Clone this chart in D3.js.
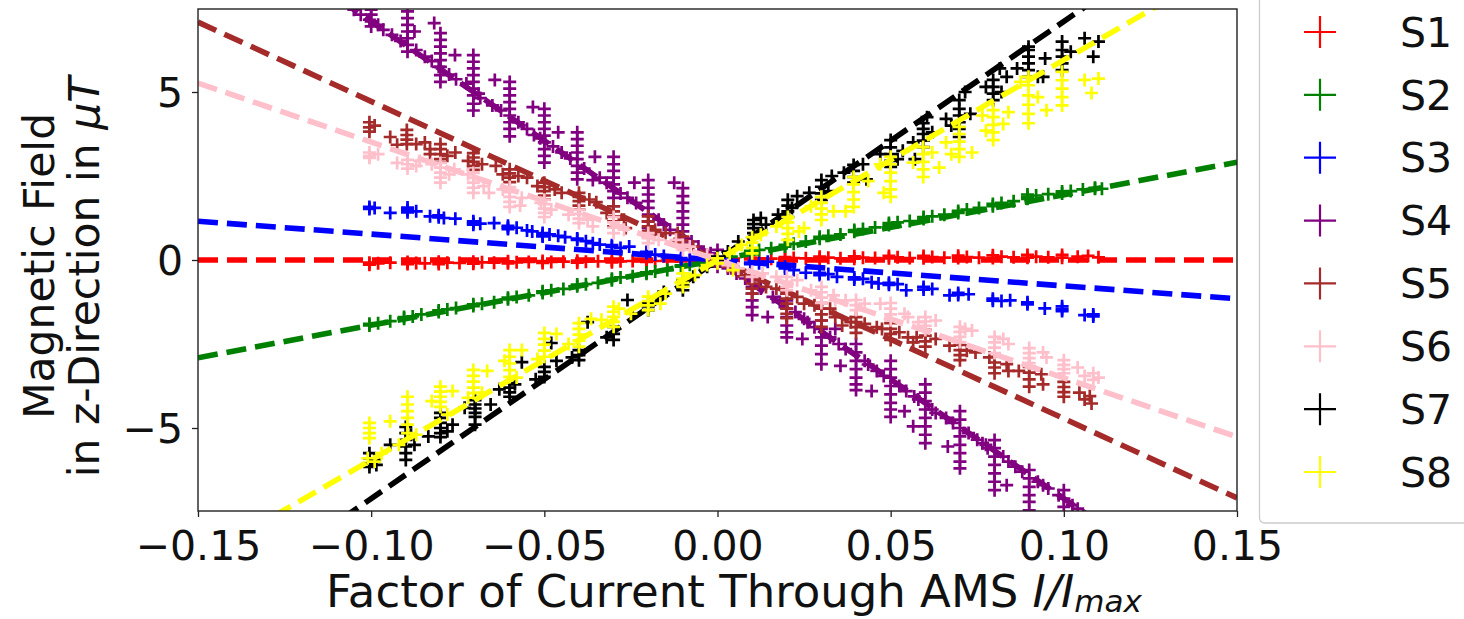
<!DOCTYPE html>
<html>
<head>
<meta charset="utf-8">
<script src="https://cdn.jsdelivr.net/npm/d3@7"></script>
<style>
  html, body { margin: 0; padding: 0; background: #fff; }
  svg { display: block; font-family: "DejaVu Sans", sans-serif; }
</style>
</head>
<body>
<svg id="chart" width="1464" height="619"></svg>
<script>
// Sensor names, colours and fitted slopes (µT per unit of I/Imax)
const sensorNames = ["S1", "S2", "S3", "S4", "S5", "S6", "S7", "S8"];
const sensorColors = ["red", "green", "blue", "purple", "brown", "pink", "black", "yellow"];
const fitSlopes = [0, 19.4, -7.7, -71, -47.2, -35.1, 71, 59.5];

const xTicks = [-0.15, -0.10, -0.05, 0.00, 0.05, 0.10, 0.15];
const yTicks = [-5, 0, 5];
const xDomain = [-0.15, 0.15];
const yDomain = [-7.47, 7.47];

// Measurements per sensor: each row is [I/Imax, B1, B2, ...]
const s1 = [
  [-0.1005, -0.08, -0.14], [-0.098, -0.1], [-0.0945, -0.08], [-0.0895, -0.06, -0.12], [-0.087, -0.09], [-0.0845, -0.1],
  [-0.0805, -0.05, -0.12], [-0.078, -0.08], [-0.0745, -0.09], [-0.0705, -0.05, -0.11], [-0.068, -0.07], [-0.0645, -0.08],
  [-0.0605, -0.04, -0.1], [-0.058, -0.07], [-0.0545, -0.06], [-0.0505, -0.03, -0.09], [-0.048, -0.06], [-0.0445, -0.05],
  [-0.0405, -0.02, -0.08], [-0.038, -0.05], [-0.0345, -0.04], [-0.0305, -0.01, -0.07], [-0.028, -0.04], [-0.0245, -0.03],
  [-0.0205, 0.0, -0.06], [-0.018, -0.03], [-0.0145, -0.02], [-0.0105, 0.01, -0.04], [-0.008, -0.01],
  [0.000, 0.02, -0.02], [0.004, 0.02],
  [0.0095, 0.02, 0.07], [0.012, 0.05], [0.0155, 0.04], [0.0195, 0.03, 0.09], [0.022, 0.06], [0.0255, 0.05],
  [0.0295, 0.04, 0.1], [0.032, 0.07], [0.0355, 0.05], [0.0395, 0.04, 0.11], [0.042, 0.07], [0.0455, 0.06],
  [0.0495, 0.05, 0.12], [0.052, 0.08], [0.0555, 0.06], [0.0595, 0.05, 0.12], [0.062, 0.09], [0.0655, 0.07],
  [0.0695, 0.06, 0.13], [0.072, 0.09], [0.0755, 0.07], [0.0795, 0.06, 0.14], [0.082, 0.1], [0.0855, 0.08],
  [0.0895, 0.07, 0.15], [0.092, 0.1], [0.0955, 0.08], [0.0995, 0.07, 0.15], [0.104, 0.1], [0.107, 0.12], [0.11, 0.08]
];
const s2 = [
  [-0.1005, -1.95, -1.9], [-0.098, -1.88], [-0.0945, -1.82],
  [-0.0905, -1.75, -1.7], [-0.088, -1.68], [-0.0855, -1.62],
  [-0.0805, -1.55, -1.5], [-0.078, -1.47], [-0.0755, -1.43],
  [-0.0705, -1.37, -1.32], [-0.068, -1.3], [-0.0645, -1.26],
  [-0.0605, -1.17, -1.12], [-0.058, -1.1], [-0.0545, -1.05],
  [-0.0505, -0.98, -0.93], [-0.048, -0.9], [-0.0445, -0.86],
  [-0.0405, -0.78, -0.73], [-0.038, -0.72], [-0.0345, -0.68],
  [-0.0305, -0.6, -0.56], [-0.028, -0.52], [-0.0245, -0.48],
  [-0.0205, -0.41, -0.37], [-0.018, -0.34], [-0.0145, -0.3],
  [-0.0105, -0.2, -0.16], [-0.008, -0.14], [-0.005, -0.1],
  [0.000, 0.0, 0.05], [0.004, 0.1],
  [0.0095, 0.22, 0.27], [0.012, 0.3], [0.0155, 0.35],
  [0.0195, 0.4, 0.45], [0.022, 0.48], [0.0255, 0.55],
  [0.0295, 0.63, 0.69], [0.032, 0.72], [0.0355, 0.76],
  [0.0395, 0.84, 0.89], [0.042, 0.92], [0.0455, 0.97],
  [0.0495, 1.04, 1.1], [0.052, 1.12], [0.0555, 1.16],
  [0.0595, 1.22, 1.28], [0.062, 1.3], [0.0655, 1.35],
  [0.0695, 1.4, 1.46], [0.072, 1.5], [0.0755, 1.55],
  [0.0795, 1.6, 1.67], [0.082, 1.7], [0.0855, 1.75],
  [0.0895, 1.82, 1.88, 1.95], [0.092, 1.92], [0.0955, 1.96],
  [0.0995, 1.98, 2.04], [0.102, 2.05], [0.1055, 2.1], [0.109, 2.12, 2.15], [0.111, 2.12]
];
const s3 = [
  [-0.1005, 1.58, 1.52], [-0.099, 1.55], [-0.0945, 1.4],
  [-0.0895, 1.56, 1.49, 1.42], [-0.087, 1.45],
  [-0.083, 1.3], [-0.0805, 1.33, 1.27], [-0.079, 1.25], [-0.0757, 1.23],
  [-0.0705, 1.15, 1.1, 1.05], [-0.0685, 1.08], [-0.0645, 1.1],
  [-0.0605, 1.02, 0.97, 0.92], [-0.058, 0.96], [-0.055, 0.88], [-0.0535, 0.85],
  [-0.0505, 0.8, 0.74, 0.7], [-0.0485, 0.76], [-0.046, 0.72], [-0.044, 0.68],
  [-0.0405, 0.64, 0.6], [-0.038, 0.56], [-0.036, 0.5], [-0.034, 0.46],
  [-0.0305, 0.44, 0.39], [-0.028, 0.36], [-0.0255, 0.4],
  [-0.0205, 0.24, 0.2], [-0.018, 0.16], [-0.0155, 0.12],
  [-0.0105, 0.06, 0.02], [-0.008, 0.0],
  [0.000, 0.02, -0.02],
  [0.0095, -0.08, -0.12], [0.012, -0.1], [0.0145, -0.05],
  [0.0195, -0.2, -0.25], [0.022, -0.3], [0.0255, -0.38],
  [0.0295, -0.38, -0.45], [0.032, -0.42], [0.0345, -0.5],
  [0.0395, -0.52, -0.58], [0.042, -0.56], [0.0445, -0.66],
  [0.0495, -0.68, -0.74], [0.0465, -0.7], [0.052, -0.72],
  [0.0595, -0.8, -0.88], [0.0545, -0.9], [0.062, -0.86],
  [0.0695, -0.98, -1.04], [0.067, -1.05], [0.0725, -1.02],
  [0.0795, -1.15, -1.21], [0.082, -1.22], [0.0845, -1.2],
  [0.0895, -1.26, -1.32], [0.0945, -1.44],
  [0.0995, -1.38, -1.46, -1.52], [0.106, -1.64], [0.1085, -1.62, -1.68]
];
const s4 = [
  [-0.105, 7.45], [-0.103, 7.3], [-0.1005, 7.15], [-0.100, 7.45, 7.3, 7.1, 6.95], [-0.098, 7.0],
  [-0.0965, 6.85], [-0.094, 6.7], [-0.0915, 6.52], [-0.0895, 7.4, 7.2, 7.0, 6.8, 6.6, 6.4, 6.2], [-0.0875, 6.8], [-0.087, 6.25], [-0.0845, 6.05], [-0.0825, 5.92],
  [-0.0818, 7.05], [-0.0805, 5.75], [-0.080, 6.75, 6.55, 6.35, 6.15, 5.95, 5.75, 5.5, 5.3], [-0.0775, 5.52], [-0.0758, 6.1], [-0.0755, 5.38],
  [-0.0725, 5.25], [-0.0705, 6.1, 5.9, 5.7, 5.5, 5.3, 5.1, 4.9, 4.65, 4.45], [-0.069, 4.95], [-0.0685, 4.82], [-0.0643, 5.36],
  [-0.065, 4.6], [-0.0625, 4.45], [-0.060, 5.3, 5.1, 4.9, 4.7, 4.5, 4.3, 4.1, 3.9, 3.68], [-0.0575, 4.1], [-0.055, 3.9], [-0.053, 3.72], [-0.0533, 4.55],
  [-0.0512, 3.62], [-0.050, 4.5, 4.3, 4.1, 3.9, 3.7, 3.5, 3.3, 3.1, 2.9], [-0.0475, 3.38], [-0.045, 3.2], [-0.046, 3.8],
  [-0.0425, 3.02], [-0.0405, 3.8, 3.6, 3.4, 3.2, 3.0, 2.8, 2.6, 2.4], [-0.0385, 2.72], [-0.0354, 3.07], [-0.036, 2.38],
  [-0.034, 2.45], [-0.032, 2.3], [-0.030, 3.07, 2.85, 2.65, 2.45, 2.25, 2.05, 1.85, 1.6], [-0.028, 1.98], [-0.024, 2.3],
  [-0.026, 1.85], [-0.0235, 1.7], [-0.020, 2.38, 2.15, 1.95, 1.75, 1.55, 1.35, 1.15, 0.95, 0.8], [-0.017, 1.2], [-0.0155, 1.05], [-0.0137, 0.9], [-0.0125, 2.3],
  [-0.010, 2.14, 1.9, 1.7, 1.45, 1.25, 1.05, 0.85, 0.65, 0.45], [-0.0075, 0.55], [-0.0055, 0.4],
  [-0.002, 0.2], [0.000, 0.3, 0.05, -0.2], [0.003, -0.25],
  [0.0055, -0.4], [0.008, -0.55], [0.010, -0.6, -0.8, -1.0, -1.2, -1.4, -1.64], [0.0125, -0.85], [0.0145, -1.7],
  [0.016, -1.1], [0.018, -1.25], [0.020, -1.0, -1.2, -1.45, -1.7, -1.95, -2.15, -2.3], [0.0225, -1.55], [0.0245, -2.35], [0.025, -1.75],
  [0.026, -1.85], [0.028, -2.0], [0.030, -1.8, -2.05, -2.3, -2.55, -2.8, -3.1], [0.0325, -2.3], [0.035, -2.5], [0.0355, -3.15], [0.034, -2.05],
  [0.037, -2.65], [0.040, -2.5, -2.75, -3.0, -3.25, -3.5, -3.7, -3.87], [0.0425, -3.0], [0.0445, -3.9],
  [0.0435, -3.11], [0.046, -3.3], [0.048, -3.45], [0.050, -3.0, -3.25, -3.5, -3.75, -4.0, -4.25, -4.45, -4.67], [0.0525, -3.75], [0.0545, -3.9], [0.0568, -4.06], [0.054, -4.5],
  [0.058, -4.15], [0.060, -3.7, -3.95, -4.2, -4.45, -4.7, -4.95, -5.2, -5.45], [0.062, -4.45], [0.063, -4.55], [0.0565, -4.95],
  [0.066, -4.7], [0.068, -4.85], [0.070, -4.5, -4.75, -5.0, -5.25, -5.5, -5.75, -6.0, -6.2], [0.0725, -5.15], [0.075, -5.35], [0.0775, -5.5], [0.0665, -5.55],
  [0.0765, -5.45], [0.078, -5.6], [0.080, -5.36, -5.6, -5.85, -6.1, -6.35, -6.6, -6.85], [0.0825, -5.85], [0.084, -6.0], [0.086, -6.15], [0.0835, -6.7],
  [0.088, -6.3], [0.090, -6.25, -6.5, -6.75, -7.0, -7.2, -7.45], [0.0925, -6.6], [0.094, -6.7], [0.0955, -6.8],
  [0.0985, -7.0], [0.100, -6.85, -7.1, -7.35], [0.1025, -7.3], [0.104, -7.4]
];
const s5 = [
  [-0.1005, 4.1, 3.95, 3.82], [-0.099, 4.0], [-0.0945, 3.66],
  [-0.0925, 3.43], [-0.0897, 3.87, 3.72, 3.58, 3.45], [-0.087, 3.45], [-0.0845, 3.5],
  [-0.083, 3.3, 3.15], [-0.080, 3.45, 3.3, 3.15, 3.0, 2.9], [-0.078, 3.1], [-0.0757, 3.2],
  [-0.0705, 3.18, 3.05, 2.92, 2.8, 2.68], [-0.072, 2.95], [-0.068, 2.85], [-0.064, 2.8],
  [-0.060, 2.7, 2.58, 2.45, 2.32], [-0.062, 2.55], [-0.0575, 2.5], [-0.055, 2.45],
  [-0.050, 2.3, 2.17, 2.05, 1.92, 1.8], [-0.052, 2.2], [-0.047, 2.1], [-0.045, 2.0],
  [-0.040, 2.0, 1.88, 1.75, 1.62, 1.5], [-0.037, 1.8], [-0.035, 1.72],
  [-0.030, 1.6, 1.45, 1.3, 1.15, 1.0], [-0.032, 1.4], [-0.027, 1.2], [-0.0265, 0.95],
  [-0.020, 1.3, 1.15, 1.0, 0.85, 0.7], [-0.018, 0.9], [-0.015, 0.8],
  [-0.0115, 0.8], [-0.010, 0.7, 0.58, 0.45], [-0.007, 0.4],
  [-0.003, 0.15], [0.000, 0.05, -0.1], [0.003, -0.2],
  [0.006, -0.35], [0.008, -0.45], [0.010, -0.7, -0.85, -1.0], [0.012, -0.6], [0.014, -0.8],
  [0.017, -0.85], [0.020, -1.0, -1.15, -1.3, -1.45, -1.6, -1.73], [0.023, -1.1], [0.025, -1.3],
  [0.028, -1.35], [0.030, -1.28, -1.45, -1.62, -1.8, -1.99], [0.0325, -1.45], [0.034, -1.7],
  [0.0385, -1.85], [0.040, -1.7, -1.85, -2.0, -2.17], [0.0425, -1.9], [0.036, -1.95],
  [0.0475, -2.05], [0.050, -1.88, -2.05, -2.2, -2.38], [0.0525, -2.15], [0.055, -2.3], [0.046, -2.0],
  [0.0575, -2.3], [0.060, -2.08, -2.25, -2.42, -2.58], [0.063, -2.35], [0.0565, -2.45],
  [0.067, -2.55], [0.070, -2.53, -2.68, -2.83, -2.98], [0.072, -2.7], [0.0745, -2.75],
  [0.0785, -2.9], [0.080, -2.88, -3.05, -3.2, -3.37], [0.0835, -3.1], [0.084, -3.3],
  [0.090, -3.18, -3.35, -3.55, -3.77], [0.0935, -3.4], [0.094, -3.7], [0.087, -3.3],
  [0.100, -3.63, -3.78, -3.93, -4.07], [0.1045, -3.95], [0.106, -4.15], [0.108, -4.27], [0.1075, -4.05]
];
const s6 = [
  [-0.1005, 3.2, 3.1, 3.04], [-0.098, 3.15],
  [-0.0925, 2.89], [-0.0895, 2.98, 2.85, 2.72], [-0.087, 2.8], [-0.086, 2.95],
  [-0.0825, 2.85], [-0.080, 2.89, 2.75, 2.6, 2.45, 2.3], [-0.0775, 2.55], [-0.076, 2.7],
  [-0.072, 2.55], [-0.0705, 2.59, 2.45, 2.3, 2.15, 2.0], [-0.0675, 2.2], [-0.066, 2.0],
  [-0.062, 2.1], [-0.060, 2.17, 2.02, 1.88, 1.73, 1.58], [-0.057, 1.62], [-0.0565, 1.85],
  [-0.051, 1.7], [-0.050, 1.79, 1.66, 1.53, 1.4, 1.28], [-0.048, 1.5],
  [-0.040, 1.49, 1.37, 1.23, 1.1], [-0.043, 1.35], [-0.0375, 1.2], [-0.036, 1.0],
  [-0.030, 1.28, 1.12, 0.96, 0.8], [-0.027, 0.9],
  [-0.020, 0.8, 0.65, 0.5], [-0.017, 0.6],
  [-0.012, 0.6], [-0.010, 0.45, 0.3], [-0.008, 0.4],
  [-0.003, 0.15], [0.000, 0.05], [0.003, -0.15],
  [0.006, -0.25], [0.010, -0.35, -0.5], [0.013, -0.4],
  [0.017, -0.5], [0.020, -0.5, -0.65, -0.8, -0.9], [0.023, -0.6],
  [0.030, -0.8, -0.96, -1.12, -1.28], [0.0335, -1.05], [0.034, -1.2], [0.027, -0.9],
  [0.040, -1.19, -1.34, -1.49], [0.0425, -1.3], [0.037, -1.2],
  [0.047, -1.3], [0.050, -1.28, -1.45, -1.62, -1.79], [0.054, -1.6], [0.055, -1.7],
  [0.060, -1.7, -1.83, -1.96, -2.08], [0.063, -1.8], [0.058, -1.85],
  [0.070, -1.99, -2.14, -2.29, -2.44], [0.0715, -2.05], [0.0735, -2.1],
  [0.080, -2.29, -2.45, -2.61, -2.77], [0.0825, -2.35], [0.084, -2.5],
  [0.090, -2.62, -2.77, -2.92, -3.07], [0.094, -2.75], [0.095, -2.9],
  [0.100, -2.98, -3.12, -3.25, -3.37], [0.104, -3.2],
  [0.106, -3.45], [0.1085, -3.37, -3.57], [0.110, -3.5]
];
const s7 = [
  [-0.1005, -5.75, -5.9, -6.05, -6.16], [-0.099, -5.95], [-0.0985, -6.1],
  [-0.0945, -5.5], [-0.090, -4.97, -5.15, -5.35, -5.55, -5.75, -5.95], [-0.0875, -5.5], [-0.0885, -5.2],
  [-0.0835, -5.25], [-0.080, -4.55, -4.7, -4.85, -5.0, -5.15, -5.27], [-0.0765, -4.9], [-0.078, -5.1],
  [-0.073, -4.4], [-0.070, -4.17, -4.3, -4.42, -4.55, -4.67, -4.9], [-0.0655, -4.3],
  [-0.060, -3.66, -3.8, -3.94, -4.07], [-0.0565, -3.04], [-0.0585, -3.7], [-0.063, -3.85],
  [-0.050, -3.18, -3.33, -3.48], [-0.048, -2.47], [-0.0465, -3.0], [-0.0525, -3.55],
  [-0.040, -2.68, -2.83, -2.98], [-0.0375, -1.85], [-0.042, -2.9],
  [-0.030, -1.99, -2.2, -2.38], [-0.026, -1.19], [-0.0245, -1.6], [-0.032, -2.3],
  [-0.020, -1.28, -1.38, -1.49], [-0.017, -1.1], [-0.0155, -0.95],
  [-0.010, -0.6, -0.75, -0.9], [-0.007, -0.5],
  [-0.003, -0.2], [0.000, 0.0, 0.1], [0.003, 0.25],
  [0.006, 0.55], [0.0104, 0.8, 0.95, 1.07, 1.19], [0.0125, 1.25], [0.014, 1.05],
  [0.0175, 1.35], [0.0203, 1.28, 1.45, 1.62, 1.79], [0.023, 1.9], [0.0215, 1.55],
  [0.0265, 2.0], [0.030, 1.79, 1.98, 2.18, 2.38], [0.033, 2.5], [0.032, 2.05],
  [0.0365, 2.6], [0.0393, 2.3, 2.47, 2.65, 2.83], [0.042, 2.85], [0.043, 2.4],
  [0.047, 3.15], [0.050, 2.77, 2.95, 3.15, 3.35, 3.57], [0.052, 3.0], [0.0535, 3.25],
  [0.0565, 3.5], [0.0594, 3.36, 3.55, 3.75, 3.9, 4.07], [0.062, 3.8], [0.0605, 4.25], [0.057, 3.0],
  [0.066, 4.2], [0.0698, 3.66, 3.9, 4.1, 4.3, 4.5, 4.76], [0.073, 4.35], [0.0715, 5.0], [0.0675, 4.0],
  [0.0775, 5.15], [0.0796, 4.76, 4.95, 5.15, 5.36], [0.082, 5.0], [0.0835, 5.45], [0.0815, 5.7],
  [0.0865, 5.7], [0.0898, 5.45, 5.65, 5.85, 6.05, 6.25, 6.35], [0.0946, 6.0], [0.094, 5.45], [0.0925, 5.45],
  [0.0995, 5.65, 5.85, 6.05, 6.25, 6.5], [0.106, 6.6], [0.11, 6.5], [0.1085, 6.05], [0.102, 6.2]
];
const s8 = [
  [-0.1005, -4.85, -5.0, -5.15, -5.3], [-0.101, -5.9], [-0.099, -6.0], [-0.097, -5.75],
  [-0.0945, -4.8], [-0.0895, -4.07, -4.3, -4.5, -4.7, -4.9, -5.15], [-0.087, -5.2], [-0.092, -5.5],
  [-0.0825, -4.2], [-0.080, -3.77, -3.92, -4.07, -4.22, -4.37], [-0.0765, -3.9], [-0.078, -4.6],
  [-0.0705, -3.27, -3.45, -3.62, -3.8, -3.96], [-0.0665, -3.3], [-0.072, -4.1], [-0.068, -3.95],
  [-0.060, -2.68, -2.88, -3.08, -3.28, -3.48], [-0.0565, -2.68], [-0.0615, -3.0], [-0.058, -3.5],
  [-0.050, -2.17, -2.35, -2.52, -2.7, -2.88], [-0.0465, -2.2], [-0.052, -2.95],
  [-0.040, -1.88, -2.05, -2.22, -2.4, -2.58], [-0.0365, -1.75], [-0.0335, -1.78], [-0.043, -2.5],
  [-0.030, -1.39, -1.54, -1.69, -1.84, -1.99], [-0.0285, -1.45], [-0.025, -1.6],
  [-0.020, -1.09, -1.22, -1.35, -1.49], [-0.0165, -1.3], [-0.015, -1.0],
  [-0.010, -0.4, -0.55, -0.68, -0.8], [-0.0065, -0.45],
  [-0.003, -0.15], [0.000, 0.05, -0.1], [0.0045, -0.3], [0.0035, 0.2],
  [0.010, 0.2, 0.36, 0.52, 0.68], [0.0125, 0.75], [0.007, 0.45],
  [0.0203, 0.6, 0.78, 0.95, 1.12, 1.28], [0.0235, 0.85], [0.025, 0.95], [0.017, 1.0],
  [0.030, 1.19, 1.36, 1.53, 1.7, 1.88], [0.027, 1.6], [0.0335, 1.45],
  [0.0393, 1.58, 1.8, 2.02, 2.25, 2.47], [0.037, 1.45], [0.0435, 2.35],
  [0.050, 1.88, 2.1, 2.35, 2.6, 2.85, 3.07], [0.048, 2.0], [0.047, 2.85],
  [0.0594, 2.47, 2.7, 2.92, 3.15, 3.36], [0.0565, 2.9], [0.064, 2.75], [0.062, 3.2],
  [0.0698, 3.07, 3.3, 3.52, 3.75, 3.96], [0.0675, 3.15], [0.0735, 3.2], [0.066, 3.5],
  [0.0796, 3.57, 3.8, 4.02, 4.25, 4.46], [0.0775, 3.85], [0.0825, 4.05], [0.084, 4.4], [0.0765, 4.3],
  [0.0898, 4.07, 4.35, 4.62, 4.9, 5.2, 5.45], [0.0925, 4.85], [0.095, 4.46], [0.0875, 5.3],
  [0.0995, 4.6, 4.85, 5.1, 5.35, 5.6], [0.106, 5.36], [0.11, 5.4], [0.108, 4.97]
];
const sensorData = [s1, s2, s3, s4, s5, s6, s7, s8];

const svg = d3.select("#chart");
const plot = { left: 198, right: 1237, top: 9, bottom: 511 };

const x = d3.scaleLinear().domain(xDomain).range([plot.left, plot.right]);
const y = d3.scaleLinear().domain(yDomain).range([plot.bottom, plot.top]);

svg.append("defs").append("clipPath").attr("id", "plot-clip")
  .append("rect")
  .attr("x", plot.left).attr("y", plot.top)
  .attr("width", plot.right - plot.left).attr("height", plot.bottom - plot.top);

const layer = svg.append("g").attr("clip-path", "url(#plot-clip)");
const plusPath = "M-6.5,0H6.5M0,-6.5V6.5";
const fitLine = d3.line().x(d => x(d[0])).y(d => y(d[1]));

sensorData.forEach((rows, i) => {
  const pts = rows.flatMap(r => r.slice(1).map(v => [r[0], v]));
  layer.append("g")
    .selectAll("path")
    .data(pts)
    .join("path")
    .attr("d", plusPath)
    .attr("transform", d => `translate(${x(d[0])},${y(d[1])})`)
    .attr("stroke", sensorColors[i])
    .attr("stroke-width", 2.7)
    .attr("fill", "none");

  layer.append("path")
    .datum(xDomain.map(v => [v, fitSlopes[i] * v]))
    .attr("d", fitLine)
    .attr("stroke", sensorColors[i])
    .attr("stroke-width", 5.6)
    .attr("stroke-dasharray", "20,9")
    .attr("fill", "none");
});

// Frame
svg.append("rect")
  .attr("x", plot.left).attr("y", plot.top)
  .attr("width", plot.right - plot.left).attr("height", plot.bottom - plot.top)
  .attr("fill", "none").attr("stroke", "#222").attr("stroke-width", 1.4);

// Axes
const xAxis = svg.append("g")
  .attr("transform", `translate(0,${plot.bottom})`)
  .call(d3.axisBottom(x).tickValues(xTicks).tickFormat(d3.format(".2f")).tickSize(6));
xAxis.select(".domain").remove();
xAxis.selectAll("line").attr("stroke", "#222").attr("stroke-width", 1.3);
xAxis.selectAll("text")
  .attr("y", 49).attr("dy", 0)
  .attr("font-size", 41).attr("fill", "#111")
  .attr("font-family", "DejaVu Sans");

const yAxis = svg.append("g")
  .attr("transform", `translate(${plot.left},0)`)
  .call(d3.axisLeft(y).tickValues(yTicks).tickFormat(d3.format("d")).tickSize(6));
yAxis.select(".domain").remove();
yAxis.selectAll("line").attr("stroke", "#222").attr("stroke-width", 1.3);
yAxis.selectAll("text")
  .attr("x", -15).attr("dy", "0.36em")
  .attr("font-size", 41).attr("fill", "#111")
  .attr("font-family", "DejaVu Sans");

// Axis titles
const xTitle = svg.append("text")
  .attr("x", 734)
  .attr("y", 607)
  .attr("text-anchor", "middle")
  .attr("font-size", 45)
  .attr("fill", "#111");
xTitle.append("tspan").text("Factor of Current Through AMS ");
xTitle.append("tspan").attr("font-style", "italic").text("I/I");
xTitle.append("tspan").attr("font-style", "italic").attr("font-size", 31).attr("dy", 5).text("max");

svg.append("text")
  .attr("transform", "translate(54,266) rotate(-90)")
  .attr("text-anchor", "middle")
  .attr("font-size", 42.5)
  .attr("fill", "#111")
  .text("Magnetic Field");

const yTitle2 = svg.append("text")
  .attr("transform", "translate(99,277) rotate(-90)")
  .attr("text-anchor", "middle")
  .attr("font-size", 42.5)
  .attr("fill", "#111");
yTitle2.append("tspan").text("in z-Direction in ");
yTitle2.append("tspan").attr("font-style", "italic").text("μT");

// Legend
const legend = svg.append("g");
legend.append("rect")
  .attr("x", 1259.5).attr("y", -20)
  .attr("width", 260).attr("height", 543)
  .attr("rx", 5)
  .attr("fill", "#fff").attr("fill-opacity", 0.8)
  .attr("stroke", "#ccc").attr("stroke-width", 1.3);

const legendRow = d3.scaleLinear().domain([0, 7]).range([32, 472]);
const items = legend.selectAll("g.item")
  .data(sensorNames)
  .join("g")
  .attr("class", "item")
  .attr("transform", (d, i) => `translate(0,${legendRow(i)})`);
items.append("path")
  .attr("d", "M1304,0H1336M1320,-16V16")
  .attr("stroke", (d, i) => sensorColors[i])
  .attr("stroke-width", 2.2)
  .attr("fill", "none");
items.append("text")
  .attr("x", 1400)
  .attr("dy", "0.36em")
  .attr("font-size", 41)
  .attr("fill", "#111")
  .text(d => d);
</script>
</body>
</html>
